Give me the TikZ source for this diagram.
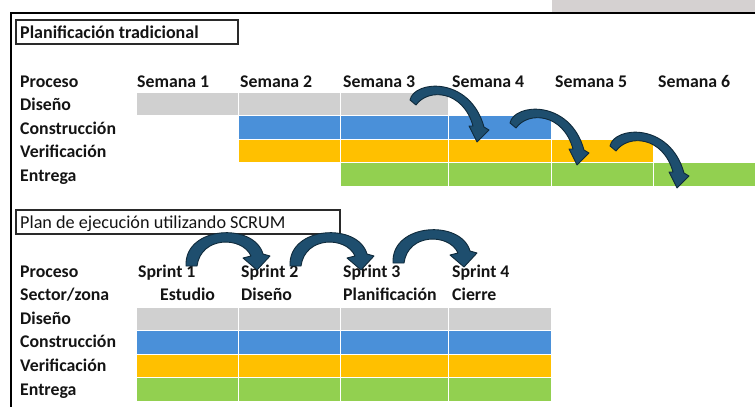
\documentclass[tikz,border=0pt]{standalone}
\usepackage{fontspec}
\setmainfont{Carlito}
\definecolor{txt}{HTML}{141414}
\definecolor{cgray}{HTML}{D0D0D0}
\definecolor{cblue}{HTML}{4A90D9}
\definecolor{corange}{HTML}{FFC000}
\definecolor{cgreen}{HTML}{92D050}
\definecolor{arrowfill}{HTML}{1E4E6E}
\definecolor{arrowline}{HTML}{0F2A3B}
\definecolor{tabgray}{HTML}{D5D1D1}
\definecolor{boxline}{HTML}{2A2A2A}
\begin{document}
\begin{tikzpicture}[x=1pt,y=-1pt,
  lbl/.style={anchor=base west, inner sep=0pt, text=txt,
    font=\fontsize{17.8}{20}\selectfont\bfseries},
  ttl/.style={lbl, font=\fontsize{18.2}{20}\selectfont},
  cell/.style={draw=white, line width=1pt},
  titlebox/.style={draw=boxline, line width=1.3pt},
  bendarrow/.style={fill=arrowfill, draw=arrowline, line width=0.9pt, line join=round}]
\useasboundingbox (0,0) rectangle (755,407);

% frame of the sheet
\fill[tabgray] (552,0) rectangle (755,12);
\draw[line width=2pt, black] (10,13) -- (755,13);
\draw[line width=2pt, black] (11,13) -- (11,407);

% ---------- traditional plan ----------
\draw[titlebox] (16,20) rectangle (238,44);
\node[ttl, font=\fontsize{18}{20}\selectfont\bfseries] (t1) at (20,38) {Planificación tradicional};

\node[lbl] (tproc) at (20,87) {Proceso};
\node[lbl] (tdis)  at (20,110) {Diseño};
\node[lbl] (tcon)  at (20,134) {Construcción};
\node[lbl] (tver)  at (20,157) {Verificación};
\node[lbl] (tent)  at (20,181) {Entrega};

\node[lbl] (w1) at (137,87) {Semana 1};
\node[lbl] (w2) at (240,87) {Semana 2};
\node[lbl] (w3) at (343,87) {Semana 3};
\node[lbl] (w4) at (452,87) {Semana 4};
\node[lbl] (w5) at (555,87) {Semana 5};
\node[lbl] (w6) at (658,87) {Semana 6};

\foreach \a/\b in {136/238, 238/340.5, 340.5/448.5}
  \path[cell, fill=cgray] (\a,92) rectangle (\b,115.5);
\foreach \a/\b in {238/340.5, 340.5/448.5, 448.5/551}
  \path[cell, fill=cblue] (\a,115.5) rectangle (\b,139.5);
\foreach \a/\b in {238/340.5, 340.5/448.5, 448.5/551, 551/653.5}
  \path[cell, fill=corange] (\a,139.5) rectangle (\b,162.5);
\foreach \a/\b in {340.5/448.5, 448.5/551, 551/653.5, 653.5/756}
  \path[cell, fill=cgreen] (\a,162.5) rectangle (\b,186);

% curved hand-over arrows between weeks
\foreach \dx/\dy in {0/0, 100/23, 200/46}
  \path[bendarrow, shift={(\dx,\dy)}]
    (410,100) .. controls (414,80) and (470,76) .. (484,127)
    -- (489,130) -- (477,142) -- (469,126) -- (473,126)
    .. controls (463,90) and (428,88) .. (416,105) -- cycle;

% ---------- SCRUM plan ----------
\draw[titlebox] (16,210) rectangle (340,234);
\node[ttl] (t2) at (20,228) {Plan de ejecución utilizando SCRUM};

\node[lbl] (sproc) at (20,277) {Proceso};
\node[lbl] (ssec)  at (20,300) {Sector/zona};
\node[lbl] (sdis)  at (20,324) {Diseño};
\node[lbl] (scon)  at (20,347) {Construcción};
\node[lbl] (sver)  at (20,371) {Verificación};
\node[lbl] (sent)  at (20,395) {Entrega};

\node[lbl] (s1) at (138,277) {Sprint 1};
\node[lbl] (s2) at (241,277) {Sprint 2};
\node[lbl] (s3) at (343,277) {Sprint 3};
\node[lbl] (s4) at (452,277) {Sprint 4};

\node[lbl] (z1) at (160,300) {Estudio};
\node[lbl] (z2) at (241,300) {Diseño};
\node[lbl] (z3) at (343,300) {Planificación};
\node[lbl] (z4) at (452,300) {Cierre};

\foreach \a/\b in {136/238, 238/340.5, 340.5/448.5, 448.5/551} {
  \path[cell, fill=cgray]   (\a,307) rectangle (\b,330.5);
  \path[cell, fill=cblue]   (\a,330.5) rectangle (\b,354);
  \path[cell, fill=corange] (\a,354) rectangle (\b,377.5);
  \path[cell, fill=cgreen]  (\a,377.5) rectangle (\b,401);
}

% curved arrows between sprints
\foreach \dx/\dy in {0/0, 104/0, 207/-3}
  \path[bendarrow, shift={(\dx,\dy)}]
    (186,266) .. controls (184,226) and (254,222) .. (263,254)
    -- (270,256) -- (257,270) -- (243,258) -- (251,256)
    .. controls (242,236) and (201,236) .. (197,266) -- cycle;
\end{tikzpicture}
\end{document}
